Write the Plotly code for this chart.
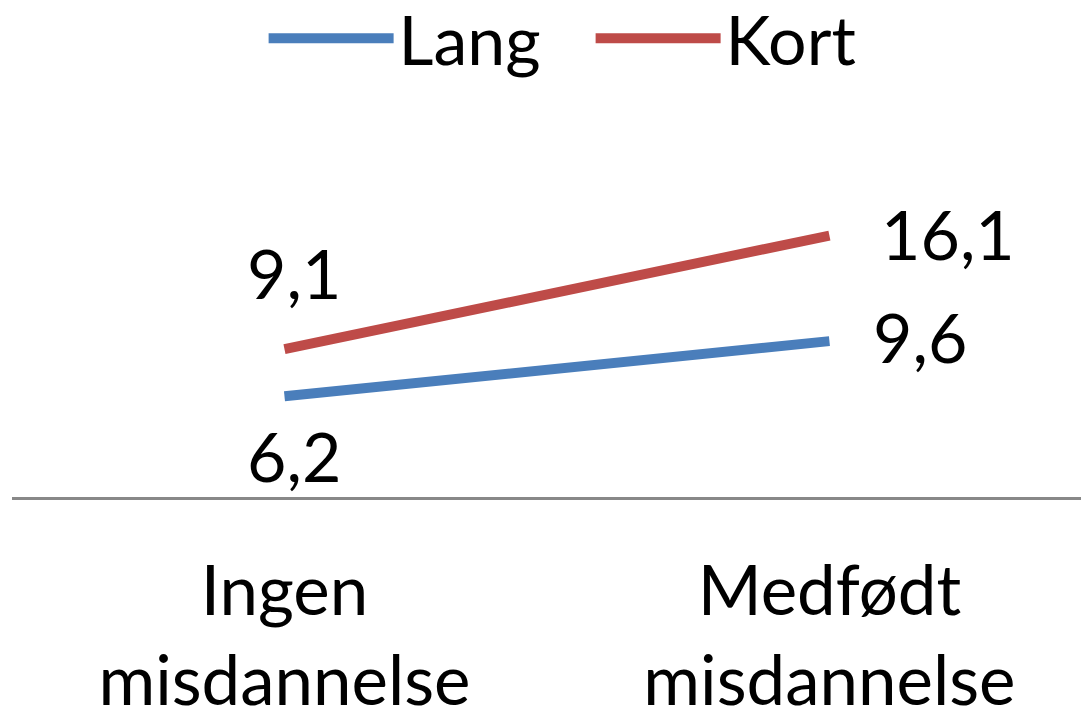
import plotly.graph_objects as go

categories = ["Ingen<br>misdannelse", "Medfødt<br>misdannelse"]
x_pos = [0, 1]
lang = [6.2, 9.6]
kort = [9.1, 16.1]
lang_labels = ["6,2", "9,6"]
kort_labels = ["9,1", "16,1"]

BLUE = "#4A7EBB"
RED = "#BE4B48"
FONT = "Lato, Calibri, Carlito, sans-serif"
LABEL_SIZE = 68

fig = go.Figure()
fig.add_trace(go.Scatter(x=x_pos, y=lang, mode="lines", name="Lang",
                         line=dict(color=BLUE, width=10)))
fig.add_trace(go.Scatter(x=x_pos, y=kort, mode="lines", name="Kort",
                         line=dict(color=RED, width=10)))

# data labels: (x, y, text, xanchor, xshift, yshift)
label_specs = [
    (x_pos[0], kort[0], kort_labels[0], "center", 10, 77),
    (x_pos[0], lang[0], lang_labels[0], "center", 10, -59),
    (x_pos[1], kort[1], kort_labels[1], "left", 50, 2),
    (x_pos[1], lang[1], lang_labels[1], "left", 42, 5),
]
for xv, yv, txt, xa, xs, ys in label_specs:
    fig.add_annotation(x=xv, y=yv, text=txt, showarrow=False,
                       xanchor=xa, yanchor="middle", xshift=xs, yshift=ys,
                       font=dict(size=LABEL_SIZE, color="black", family=FONT))

fig.update_layout(
    width=1089, height=709,
    margin=dict(l=4, r=0, t=83, b=220, autoexpand=False),
    paper_bgcolor="white", plot_bgcolor="white",
    font=dict(family=FONT, size=66, color="black"),
    showlegend=True,
    legend=dict(orientation="h", xref="container", yref="container",
                x=0.535, y=0.957, xanchor="center", yanchor="middle",
                itemwidth=125, entrywidth=187, entrywidthmode="pixels",
                font=dict(size=68, family=FONT),
                bgcolor="rgba(0,0,0,0)", tracegroupgap=0),
    xaxis=dict(range=[-0.5, 1.491], tickvals=x_pos, ticktext=categories,
               showgrid=False, zeroline=False, showline=True, automargin=False,
               linecolor="#888888", linewidth=3, ticks="",
               ticklabelstandoff=32,
               tickfont=dict(size=69, family=FONT, color="black")),
    yaxis=dict(range=[0, 25], visible=False, showgrid=False, zeroline=False,
               automargin=False),
)

fig.write_html("out.html")
